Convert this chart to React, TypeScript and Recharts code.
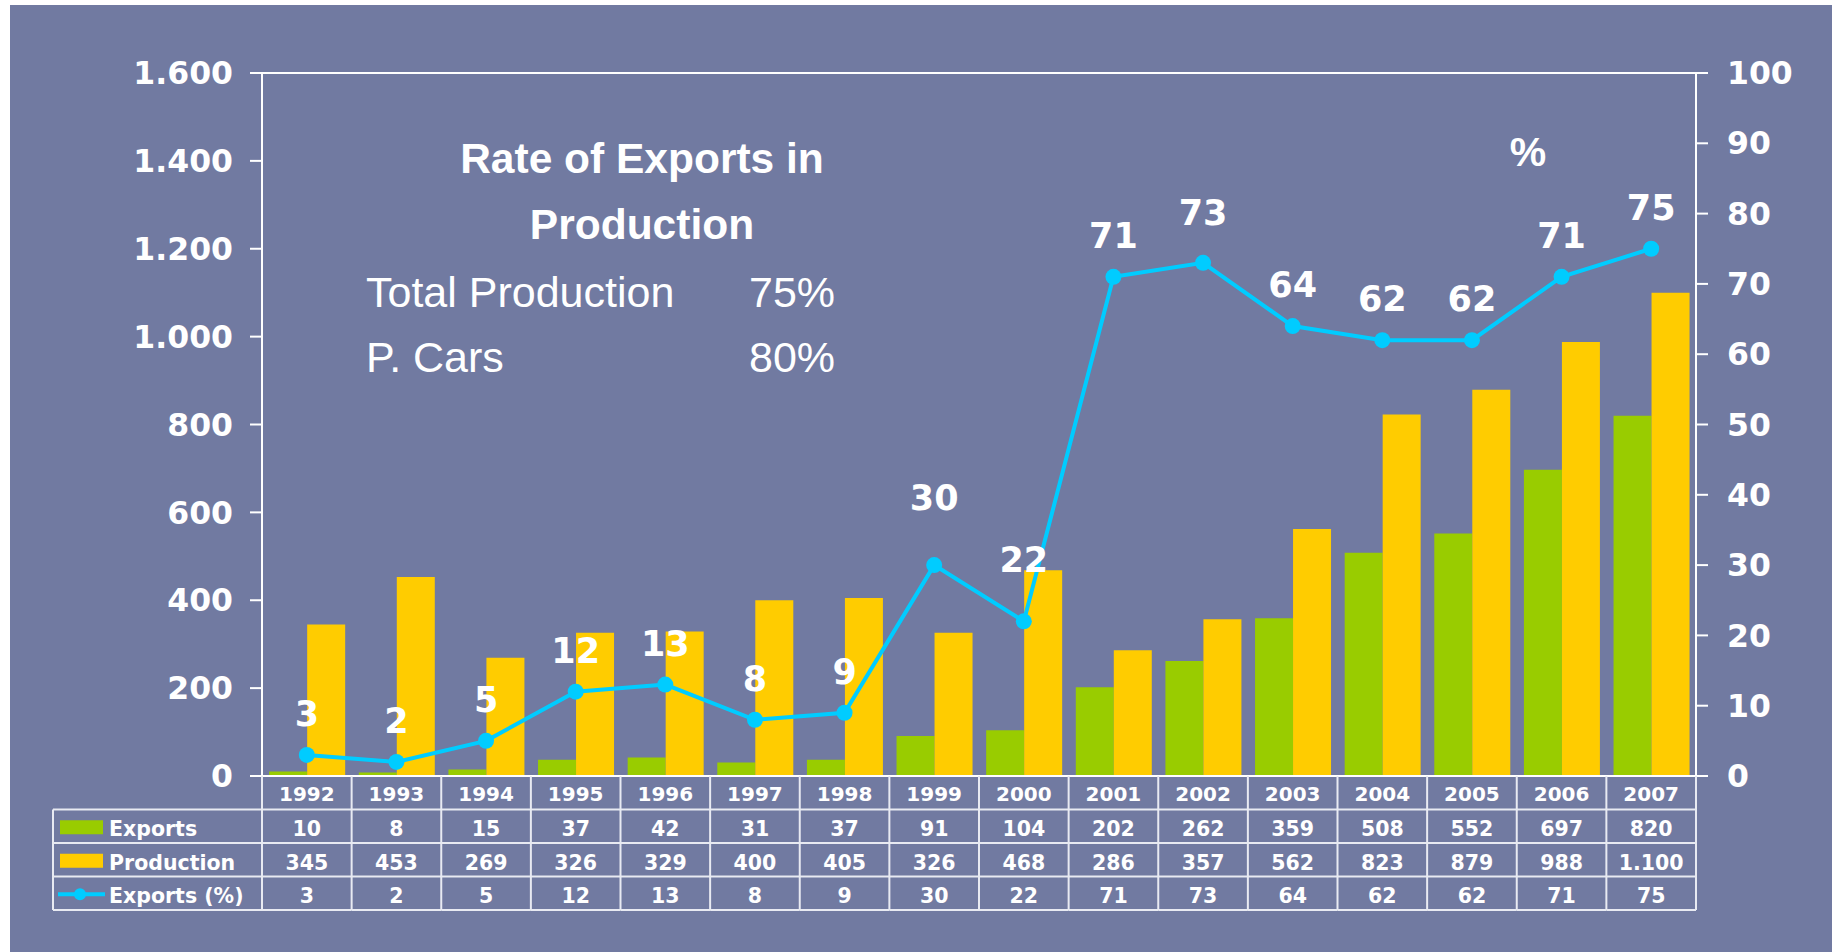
import React from 'react'
import { ComposedChart, Bar, Line, XAxis, YAxis, ReferenceLine, LabelList } from 'recharts'

const years = ['1992', '1993', '1994', '1995', '1996', '1997', '1998', '1999', '2000', '2001', '2002', '2003', '2004', '2005', '2006', '2007']
const exportsUnits = [10, 8, 15, 37, 42, 31, 37, 91, 104, 202, 262, 359, 508, 552, 697, 820]
const productionUnits = [345, 453, 269, 326, 329, 400, 405, 326, 468, 286, 357, 562, 823, 879, 988, 1100]
const exportShare = [3, 2, 5, 12, 13, 8, 9, 30, 22, 71, 73, 64, 62, 62, 71, 75]
const leftTicks = [0, 200, 400, 600, 800, 1000, 1200, 1400, 1600]
const rightTicks = [0, 10, 20, 30, 40, 50, 60, 70, 80, 90, 100]

const W = 1836
const H = 952
const PLOT_L = 262
const PLOT_R = 1696
const PLOT_T = 73
const PLOT_B = 776
const AXIS_W = 100
const COL_W = (PLOT_R - PLOT_L) / years.length
const ROW_H = 33.5

const BG = '#717AA1'
const GREEN = '#99CC00'
const YELLOW = '#FFCC00'
const CYAN = '#00CCFF'
const RULE = '#E8EAF2'
const NUM_FONT = '"DejaVu Sans", Verdana, sans-serif'
const ARIAL = '"Liberation Sans", Arial, sans-serif'

const data = years.map((year, i) => ({
  year,
  exports: exportsUnits[i],
  production: productionUnits[i],
  share: exportShare[i],
}))

// 1600 -> "1.600"
const fmt = (v: number) => String(v).replace(/\B(?=(\d{3})+(?!\d))/g, '.')

// a couple of labels sit higher in the original to clear the bars
const labelLift: Record<number, number> = { 7: 26, 8: 20, 10: 9 }

const tableText = { fill: '#fff', fontFamily: NUM_FONT, fontWeight: 700, fontSize: 20.5 }

// each x tick draws its whole column of the data table
const TableTick = (props: any) => {
  const { x, y, payload } = props
  const i = payload.index
  const left = x - COL_W / 2
  const right = x + COL_W / 2
  const cells = [years[i], fmt(exportsUnits[i]), fmt(productionUnits[i]), String(exportShare[i])]
  return (
    <g>
      {[1, 2, 3, 4].map((r) => (
        <line key={r} x1={left} x2={right} y1={y + r * ROW_H} y2={y + r * ROW_H} stroke={RULE} strokeWidth={2} />
      ))}
      <line x1={left} x2={left} y1={y} y2={y + 4 * ROW_H} stroke={RULE} strokeWidth={2} />
      {i === years.length - 1 && <line x1={right} x2={right} y1={y} y2={y + 4 * ROW_H} stroke={RULE} strokeWidth={2} />}
      {cells.map((t, r) => (
        <text
          key={r}
          x={x}
          y={y + r * ROW_H + ROW_H / 2 + (r === 0 ? 1 : 3)}
          textAnchor="middle"
          dominantBaseline="central"
          {...tableText}
          fontSize={r === 0 ? 20 : 20.5}
        >
          {t}
        </text>
      ))}
    </g>
  )
}

const ShareLabel = (props: any) => {
  const { x, y, value, index } = props
  const lift = 41 + (labelLift[index] ?? 0)
  return (
    <text x={x} y={y - lift} textAnchor="middle" dominantBaseline="central" fill="#fff" fontFamily={NUM_FONT} fontWeight={700} fontSize={35}>
      {value}
    </text>
  )
}

const axisTick = { fill: '#fff', fontFamily: NUM_FONT, fontWeight: 700, fontSize: 31.5 }

function Overlay() {
  const top = PLOT_B + ROW_H
  const legendX = 53
  const rowMid = (r: number) => top + (r - 1) * ROW_H + ROW_H / 2
  return (
    <svg width={W} height={H} style={{ position: 'absolute', left: 0, top: 0, pointerEvents: 'none' }}>
      {/* legend column of the table */}
      <line x1={legendX} x2={PLOT_L} y1={top} y2={top} stroke={RULE} strokeWidth={2} />
      <line x1={legendX} x2={PLOT_L} y1={top + ROW_H} y2={top + ROW_H} stroke={RULE} strokeWidth={2} />
      <line x1={legendX} x2={PLOT_L} y1={top + 2 * ROW_H} y2={top + 2 * ROW_H} stroke={RULE} strokeWidth={2} />
      <line x1={legendX} x2={PLOT_L} y1={top + 3 * ROW_H} y2={top + 3 * ROW_H} stroke={RULE} strokeWidth={2} />
      <line x1={legendX} x2={legendX} y1={top} y2={top + 3 * ROW_H} stroke={RULE} strokeWidth={2} />
      <rect x={60} y={rowMid(1) - 6} width={43} height={14} fill={GREEN} />
      <rect x={60} y={rowMid(2) - 6} width={43} height={14} fill={YELLOW} />
      <line x1={58} x2={105} y1={rowMid(3) + 1} y2={rowMid(3) + 1} stroke={CYAN} strokeWidth={4} />
      <circle cx={80} cy={rowMid(3) + 1} r={6} fill={CYAN} />
      <text x={109} y={rowMid(1) + 3} dominantBaseline="central" {...tableText}>Exports</text>
      <text x={109} y={rowMid(2) + 3} dominantBaseline="central" {...tableText}>Production</text>
      <text x={109} y={rowMid(3) + 3} dominantBaseline="central" {...tableText}>Exports (%)</text>

      {/* annotation block */}
      <g fill="#fff" fontFamily={ARIAL}>
        <text x={642} y={158} textAnchor="middle" dominantBaseline="central" fontWeight={700} fontSize={42.5}>Rate of Exports in</text>
        <text x={642} y={224} textAnchor="middle" dominantBaseline="central" fontWeight={700} fontSize={42.5}>Production</text>
        <text x={366} y={292} dominantBaseline="central" fontSize={43}>Total Production</text>
        <text x={749} y={292} dominantBaseline="central" fontSize={43}>75%</text>
        <text x={366} y={357} dominantBaseline="central" fontSize={43}>P. Cars</text>
        <text x={749} y={357} dominantBaseline="central" fontSize={43}>80%</text>
        <text x={1528} y={152} textAnchor="middle" dominantBaseline="central" fontWeight={700} fontSize={41}>%</text>
      </g>
    </svg>
  )
}

export default function App() {
  return (
    <div style={{ position: 'absolute', left: 0, top: 0, width: W, height: H, background: '#fff', overflow: 'hidden' }}>
      <div style={{ position: 'absolute', left: 10, top: 5, width: W - 14, height: H - 5, background: BG }} />
      <div style={{ position: 'absolute', left: 0, top: 0 }}>
        <ComposedChart
          width={W}
          height={H}
          data={data}
          margin={{ top: PLOT_T, right: W - PLOT_R - AXIS_W, bottom: 0, left: PLOT_L - AXIS_W }}
          barCategoryGap="8%"
          barGap={0}
        >
          <XAxis
            dataKey="year"
            xAxisId="x"
            height={H - PLOT_B}
            interval={0}
            tickLine={false}
            tickSize={0}
            tickMargin={0}
            axisLine={{ stroke: '#fff', strokeWidth: 2 }}
            tick={<TableTick />}
          />
          <YAxis
            yAxisId="left"
            width={AXIS_W}
            domain={[0, 1600]}
            ticks={leftTicks}
            tickFormatter={fmt}
            tickSize={12}
            tickMargin={17}
            tick={axisTick}
            tickLine={{ stroke: '#fff', strokeWidth: 2 }}
            axisLine={{ stroke: '#fff', strokeWidth: 2 }}
          />
          <YAxis
            yAxisId="right"
            orientation="right"
            width={AXIS_W}
            domain={[0, 100]}
            ticks={rightTicks}
            tickSize={12}
            tickMargin={19}
            tick={axisTick}
            tickLine={{ stroke: '#fff', strokeWidth: 2 }}
            axisLine={{ stroke: '#fff', strokeWidth: 2 }}
          />
          <ReferenceLine yAxisId="left" xAxisId="x" y={1600} stroke="#fff" strokeWidth={2} />
          <Bar dataKey="exports" xAxisId="x" yAxisId="left" fill={GREEN} isAnimationActive={false} />
          <Bar dataKey="production" xAxisId="x" yAxisId="left" fill={YELLOW} isAnimationActive={false} />
          <Line
            dataKey="share"
            xAxisId="x"
            yAxisId="right"
            type="linear"
            stroke={CYAN}
            strokeWidth={4}
            dot={{ r: 8, fill: CYAN, stroke: 'none' }}
            isAnimationActive={false}
          >
            <LabelList dataKey="share" content={<ShareLabel />} />
          </Line>
        </ComposedChart>
      </div>
      <Overlay />
    </div>
  )
}
